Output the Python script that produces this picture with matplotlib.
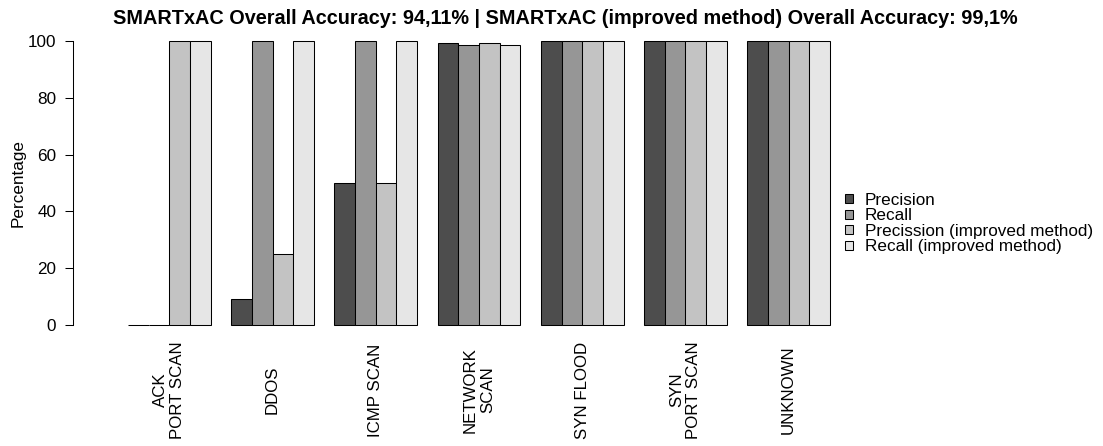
import matplotlib
matplotlib.use("Agg")
import matplotlib.pyplot as plt
from matplotlib.patches import Patch
import numpy as np

plt.rcParams['font.family'] = ['Liberation Sans', 'DejaVu Sans']

categories = ["ACK\nPORT SCAN", "DDOS", "ICMP SCAN", "NETWORK\nSCAN",
              "SYN FLOOD", "SYN\nPORT SCAN", "UNKNOWN"]
series_names = ["Precision", "Recall", "Precission (improved method)",
                "Recall (improved method)"]
precision = [0, 9.09, 50, 99.3, 100, 100, 100]
recall = [0, 100, 100, 98.6, 100, 100, 100]
precision_improved = [100, 25, 50, 99.4, 100, 100, 100]
recall_improved = [100, 100, 100, 98.6, 100, 100, 100]
yticks = [0, 20, 40, 60, 80, 100]
title = ("SMARTxAC Overall Accuracy: 94,11% | "
         "SMARTxAC (improved method) Overall Accuracy: 99,1%")

colors = ["#4D4D4D", "#969696", "#C3C3C3", "#E6E6E6"]
series = [precision, recall, precision_improved, recall_improved]

BASE = 12.3

W, H = 1103, 446
fig = plt.figure(figsize=(W / 100, H / 100), dpi=100)

# axes placement in pixels
ax_l, ax_r = 73, 858
ax_t, ax_b = 29.6, 336.4
ax = fig.add_axes([ax_l / W, 1 - ax_b / H, (ax_r - ax_l) / W, (ax_b - ax_t) / H])

n_groups = len(categories)
n_series = len(series)
group_step = n_series + 1
for j, (vals, col, name) in enumerate(zip(series, colors, series_names)):
    x = np.arange(n_groups) * group_step + 1 + j
    ax.bar(x, vals, width=1.0, align='edge', color=col, edgecolor='black',
           linewidth=0.75, label=name)

# x range: 1..35 bar span maps to px 128..830
ppu = (830 - 128) / (n_groups * group_step - 1)
ax.set_xlim(1 - (128 - ax_l) / ppu, 35 + (ax_r - 830) / ppu)
ax.set_ylim(-4, 104)

for s in ['top', 'right', 'bottom']:
    ax.spines[s].set_visible(False)
ax.spines['left'].set_bounds(0, 100)
ax.spines['left'].set_linewidth(0.75)
ax.set_yticks(yticks)
ax.tick_params(axis='y', length=5.8, width=0.75, pad=6.2, labelsize=BASE)

centers = np.arange(n_groups) * group_step + 1 + n_series / 2
ax.set_xticks(centers)
ax.set_xticklabels(categories, rotation=90, va='center', ha='center',
                   multialignment='center', fontsize=12.2, linespacing=1.15)
ax.tick_params(axis='x', length=0, pad=(390 - ax_b) * 0.72)

ax.set_ylabel("Percentage", fontsize=BASE)
ax.yaxis.set_label_coords((26 - ax_l) / (ax_r - ax_l), 0.5)

fig.text(565 / W, 1 - 18 / H, title, ha='center', va='center',
         fontsize=14.3, fontweight='bold')

handles = [Patch(facecolor=c, edgecolor='black', linewidth=0.75) for c in colors]
fig.legend(handles, series_names, loc='center left',
           bbox_to_anchor=(845 / W, 1 - 223.5 / H), frameon=False,
           fontsize=BASE, handlelength=0.45, handleheight=0.45,
           handletextpad=0.7, labelspacing=0.03, borderaxespad=0,
           borderpad=0)

fig.savefig("out.png", dpi=100)
